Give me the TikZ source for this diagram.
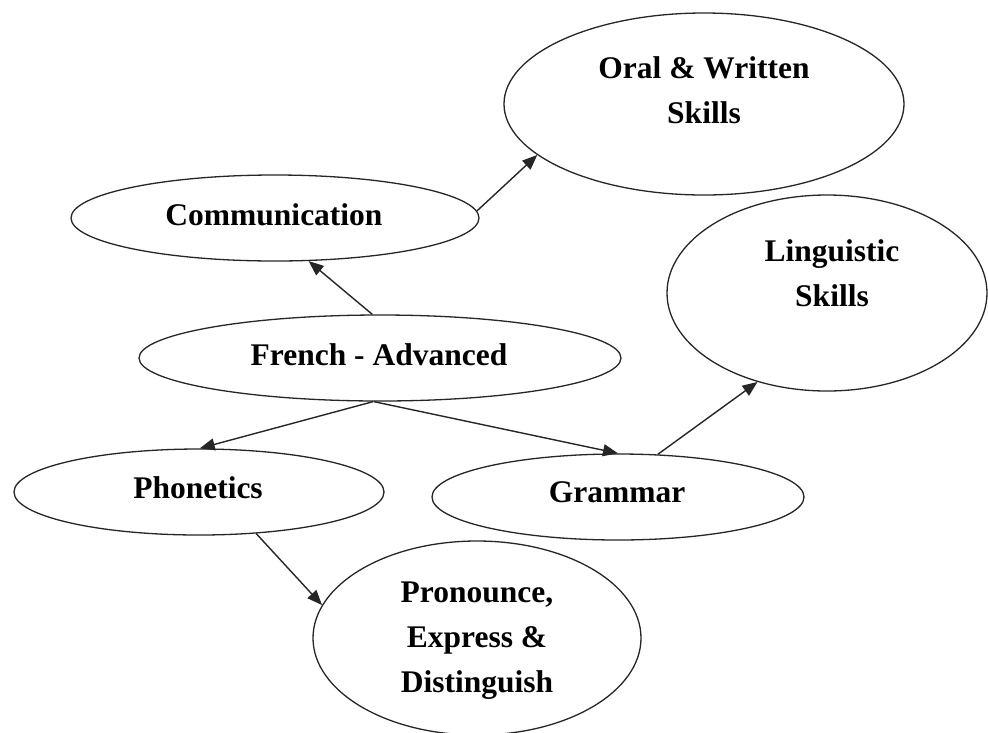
\documentclass[tikz,border=0pt]{standalone}
\usepackage{fontspec}
\setmainfont{Liberation Serif}
\usetikzlibrary{shapes.geometric,arrows.meta}
\begin{document}
\begin{tikzpicture}[x=1pt,y=-1pt,
  bubble/.style={draw=black!85, line width=1.3pt, ellipse, inner sep=0pt, fill=white},
  caption/.style={align=center, font=\fontsize{31.5}{45}\selectfont\bfseries, inner sep=0pt},
  link/.style={draw=black!85, line width=1.4pt, -{Triangle[length=15pt,width=12pt]}}]
  \useasboundingbox[fill=white] (0,0) rectangle (988,732);

  % ellipses
  \node[bubble, minimum width=400pt, minimum height=182pt] (oral)   at (704,104) {};
  \node[bubble, minimum width=408pt, minimum height=86pt]  (comm)   at (275,218) {};
  \node[bubble, minimum width=320pt, minimum height=196pt] (ling)   at (827,293) {};
  \node[bubble, minimum width=482pt, minimum height=86pt]  (french) at (380,358) {};
  \node[bubble, minimum width=370pt, minimum height=86pt]  (phon)   at (199,492) {};
  \node[bubble, minimum width=372pt, minimum height=86pt]  (gram)   at (618,497) {};
  \node[bubble, minimum width=328pt, minimum height=194pt] (pron)   at (477,638) {};

  % captions
  \node[caption] (oral-t)   at (704,90)  {Oral \& Written\\Skills};
  \node[caption] (comm-t)   at (274,215) {Communication};
  \node[caption] (ling-t)   at (832,273) {Linguistic\\Skills};
  \node[caption] (french-t) at (379,355) {French - Advanced};
  \node[caption] (phon-t)   at (198,488) {Phonetics};
  \node[caption] (gram-t)   at (617,492) {Grammar};
  \node[caption] (pron-t)   at (477,641) {Pronounce,\\Express \&\\Distinguish};

  % connectors
  \draw[link] (french.100) -- (comm.-52);
  \draw[link] (comm.2) -- (oral.197);
  \draw[link] (french.261) -- (phon.89);
  \draw[link] (french.262) -- (gram.90);
  \draw[link] (gram.47) -- (ling.232);
  \draw[link] (phon.-36) -- (pron.168);
\end{tikzpicture}
\end{document}
